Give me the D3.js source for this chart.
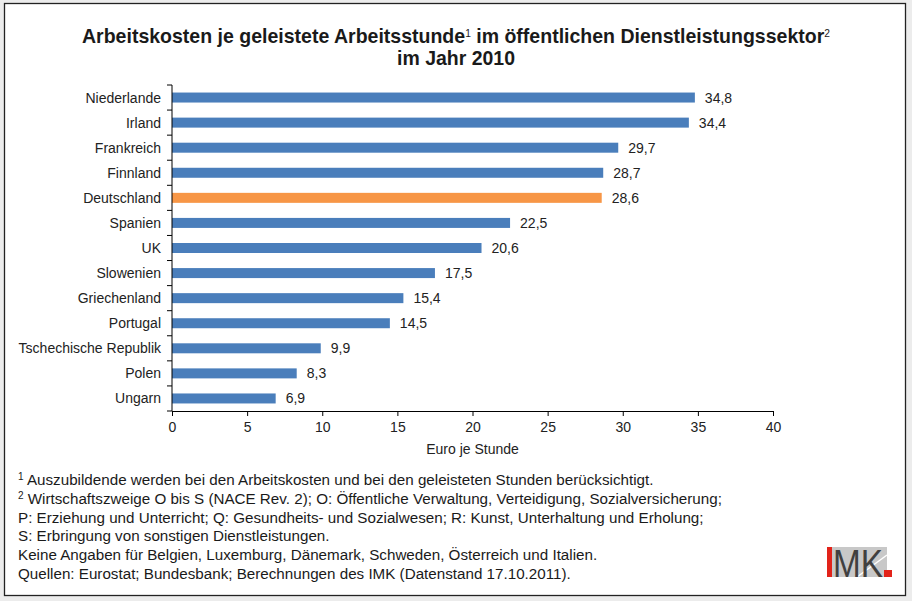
<!DOCTYPE html>
<html><head><meta charset="utf-8">
<script src="https://cdn.jsdelivr.net/npm/d3@7"></script>
<style>body{margin:0;background:#ececec;} svg{display:block;}</style>
</head><body>
<svg id="chart" width="912" height="601"></svg>
<script>
const countries = ["Niederlande","Irland","Frankreich","Finnland","Deutschland","Spanien","UK","Slowenien","Griechenland","Portugal","Tschechische Republik","Polen","Ungarn"];
const values = [34.8,34.4,29.7,28.7,28.6,22.5,20.6,17.5,15.4,14.5,9.9,8.3,6.9];
const highlight = ["Deutschland"];
const xTicks = [0,5,10,15,20,25,30,35,40];
const titleLines = [["Arbeitskosten je geleistete Arbeitsstunde","1"," im öffentlichen Dienstleistungssektor","2"],["im Jahr 2010"]];
const xAxisTitle = "Euro je Stunde";
const footnotes = [
  ["1"," Auszubildende werden bei den Arbeitskosten und bei den geleisteten Stunden berücksichtigt."],
  ["2"," Wirtschaftszweige O bis S (NACE Rev. 2); O: Öffentliche Verwaltung, Verteidigung, Sozialversicherung;"],
  ["","P: Erziehung und Unterricht; Q: Gesundheits- und Sozialwesen; R: Kunst, Unterhaltung und Erholung;"],
  ["","S: Erbringung von sonstigen Dienstleistungen."],
  ["","Keine Angaben für Belgien, Luxemburg, Dänemark, Schweden, Österreich und Italien."],
  ["","Quellen: Eurostat; Bundesbank; Berechnungen des IMK (Datenstand 17.10.2011)."]
];

const svg = d3.select("#chart");
const font = "'Liberation Sans', Arial, sans-serif";
svg.append("rect").attr("x",0).attr("y",0).attr("width",912).attr("height",601).attr("fill","#ececec");
svg.append("rect").attr("x",4.5).attr("y",3.5).attr("width",901).attr("height",592).attr("fill","#fff").attr("stroke","#222").attr("stroke-width",1.3);

// title
const tl = [37, 59];
const tw = [748, 118];
titleLines.forEach((parts,i)=>{
  const t = svg.append("text").attr("x",456).attr("y",tl[i]).attr("text-anchor","middle")
    .attr("font-family",font).attr("font-weight","bold").attr("font-size",21).attr("fill","#1a1a1a")
    .attr("dominant-baseline","middle");
  parts.forEach((p,j)=>{
    const ts = t.append("tspan").text(p);
    if (j%2===1) ts.attr("font-size",11).attr("font-weight","normal").attr("dy",-3);
    else if (j>0) ts.attr("dy",3);
  });
  t.attr("textLength",tw[i]).attr("lengthAdjust","spacingAndGlyphs");
});

const x = d3.scaleLinear().domain([0,40]).range([172,773]);
const y0 = d3.scaleBand().domain(countries).range([85,411]);

// bars
svg.append("g").selectAll("rect").data(countries).join("rect")
  .attr("x",x(0)).attr("y",d=>y0(d)+y0.bandwidth()/2-5).attr("height",10)
  .attr("width",(d,i)=>x(values[i])-x(0))
  .attr("fill",d=>highlight.includes(d)?"#f79646":"#4a7ebb");

// value labels
svg.append("g").selectAll("text").data(countries).join("text")
  .attr("x",(d,i)=>x(values[i])+10).attr("y",d=>y0(d)+y0.bandwidth()/2)
  .attr("dominant-baseline","central").attr("font-family",font).attr("font-size",14).attr("fill","#222")
  .text((d,i)=>d3.format(".1f")(values[i]).replace(".",","));

// y axis
const ya = svg.append("g").attr("transform","translate(172,0)");
ya.append("line").attr("x1",0).attr("x2",0).attr("y1",85).attr("y2",411).attr("stroke","#000").attr("stroke-width",1);
const bounds = countries.map(d=>y0(d)).concat([411]);
ya.selectAll("line.t").data(bounds).join("line").attr("class","t")
  .attr("x1",-5).attr("x2",0).attr("y1",d=>d).attr("y2",d=>d).attr("stroke","#000");
ya.selectAll("text").data(countries).join("text")
  .attr("x",-11).attr("y",d=>y0(d)+y0.bandwidth()/2).attr("text-anchor","end").attr("dominant-baseline","central")
  .attr("font-family",font).attr("font-size",14).attr("fill","#222").text(d=>d);

// x axis
const xa = svg.append("g").attr("transform","translate(0,411)")
  .call(d3.axisBottom(x).tickValues(xTicks).tickSize(5).tickSizeOuter(0).tickPadding(6));
xa.select(".domain").attr("stroke","#000");
xa.selectAll("line").attr("stroke","#000");
xa.selectAll("text").attr("font-family",font).attr("font-size",14).attr("fill","#222");
svg.append("text").attr("x",x(20)).attr("y",449).attr("text-anchor","middle").attr("dominant-baseline","central")
  .attr("font-family",font).attr("font-size",14).attr("fill","#222").text(xAxisTitle);

// footnotes
footnotes.forEach((f,i)=>{
  const t = svg.append("text").attr("x",18).attr("y",479+i*18.8).attr("dominant-baseline","central")
    .attr("font-family",font).attr("font-size",15.2).attr("fill","#1a1a1a");
  if (f[0]) t.append("tspan").attr("font-size",10).attr("dy",-3).text(f[0]);
  t.append("tspan").attr("dy",f[0]?3:0).text(f[1]);
});

// logo
const lg = svg.append("g").attr("transform","translate(827,547)");
lg.append("rect").attr("x",0).attr("y",0).attr("width",60).attr("height",30).attr("fill","#c8c8c8");
lg.append("line").attr("x1",30).attr("y1",30).attr("x2",60).attr("y2",8).attr("stroke","#fff").attr("stroke-width",1.5);
lg.append("rect").attr("x",0).attr("y",0).attr("width",5).attr("height",30).attr("fill","#e2231a");
lg.append("text").attr("x",6).attr("y",30).attr("font-family",font).attr("font-size",39).attr("fill","#404040")
  .attr("textLength",50).attr("lengthAdjust","spacingAndGlyphs").text("MK");
lg.append("rect").attr("x",57).attr("y",23).attr("width",8).attr("height",7).attr("fill","#e2231a");
</script>
</body></html>
